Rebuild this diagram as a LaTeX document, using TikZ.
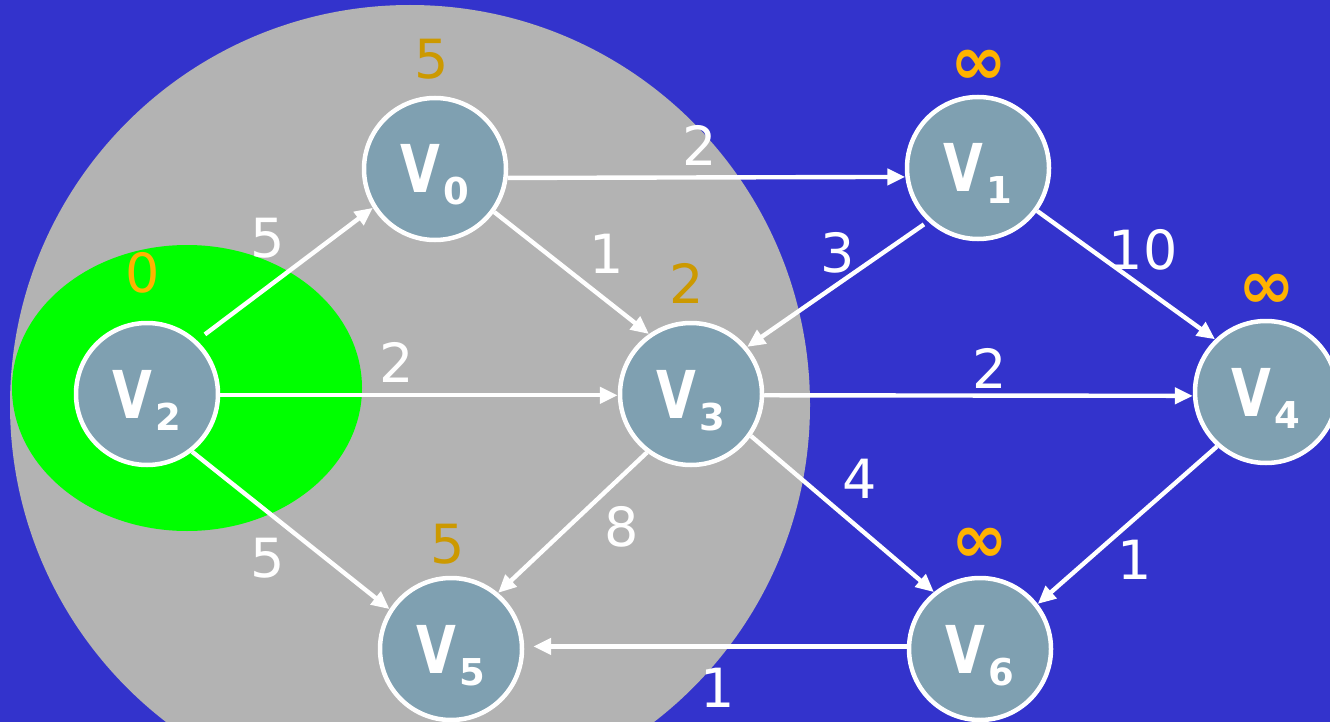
\documentclass[tikz,border=0pt]{standalone}
\usepackage{fontspec}
\usepackage{graphicx}
\setmainfont{DejaVu Sans}
\usetikzlibrary{arrows.meta}
\definecolor{bg}{HTML}{3333CC}
\definecolor{disk}{HTML}{B3B3B3}
\definecolor{grn}{HTML}{00FF00}
\definecolor{nodefill}{HTML}{7FA0B1}
\definecolor{dgold}{HTML}{CC9900}
\definecolor{orng}{HTML}{FFB300}
\newcommand{\vlab}[1]{{\fontsize{66}{70}\selectfont\bfseries\scalebox{0.78}[1]{V}\hspace{3pt}\raisebox{-12pt}{\fontsize{37}{40}\selectfont #1}}}
\begin{document}
\begin{tikzpicture}[x=1pt,y=-1pt,
  vert/.style={circle, draw=white, line width=4.5pt, fill=nodefill, minimum size=142pt,
    inner sep=0pt, text=white, text height=48pt, text depth=0pt},
  wlab/.style={text=white, font=\fontsize{54}{60}\selectfont, inner sep=0pt},
  dlab/.style={text=dgold, font=\fontsize{54}{60}\selectfont, inner sep=0pt},
  ilab/.style={text=orng, font=\fontsize{68}{74}\selectfont\bfseries, inner sep=0pt},
  zlab/.style={text=orng, font=\fontsize{54}{60}\selectfont, inner sep=0pt},
  conn/.style={draw=white, line width=4.4pt, -{Triangle[length=18pt,width=16pt]}}]
\useasboundingbox (0,0) rectangle (1330,722);
\fill[bg] (0,0) rectangle (1330,722);
\begin{scope}
\clip (0,0) rectangle (1330,722);
\fill[disk] (410,405) circle[radius=400];
\end{scope}
\fill[grn] (187,388) ellipse[x radius=175, y radius=143];
% vertices
\node[vert] (v0) at (435,169) {\vlab{0}};
\node[vert] (v1) at (978,168) {\vlab{1}};
\node[vert] (v2) at (147,394) {\vlab{2}};
\node[vert] (v3) at (691,394) {\vlab{3}};
\node[vert] (v4) at (1266,392) {\vlab{4}};
\node[vert] (v5) at (451,649) {\vlab{5}};
\node[vert] (v6) at (980,649) {\vlab{6}};
% edges
\draw[conn, shorten <=10pt] (v2.47) -- (v0.212);
\draw[conn] (v2.-1.6) -- (v3.181.6);
\draw[conn] (v2.-52) -- (v5.147);
\draw[conn] (v0.-7.5) -- (v1.187.5);
\draw[conn] (v0.-36.5) -- (v3.125);
\draw[conn, shorten <=5pt] (v1.227) -- (v3.40);
\draw[conn] (v1.-36) -- (v4.134);
\draw[conn] (v3.-1.6) -- (v4.183);
\draw[conn] (v3.-35) -- (v6.129);
\draw[conn] (v3.233) -- (v5.50.5);
\draw[conn] (v4.228) -- (v6.38);
\draw[conn, shorten >=9pt] (v6.178) -- (v5.2);
% edge weights
\node[wlab] (w01) at (700,145) {2};
\node[wlab] (w20) at (268,238) {5};
\node[wlab] (w03) at (607,254) {1};
\node[wlab] (w13) at (838,253) {3};
\node[wlab] (w14) at (1143,250) {10};
\node[wlab] (w23) at (397,362) {2};
\node[wlab] (w34) at (990,368) {2};
\node[wlab] (w36) at (860,479) {4};
\node[wlab] (w35) at (622,527) {8};
\node[wlab] (w25) at (268,558) {5};
\node[wlab] (w46) at (1135,560) {1};
\node[wlab] (w65) at (718,688) {1};
% distances
\node[dlab] (d0) at (432,59) {5};
\node[ilab] (d1) at (979,67) {∞};
\node[zlab] (d2) at (143,273) {0};
\node[dlab] (d3) at (687,283) {2};
\node[ilab] (d4) at (1267,291) {∞};
\node[dlab] (d5) at (448,544) {5};
\node[ilab] (d6) at (980,545) {∞};
\end{tikzpicture}
\end{document}
